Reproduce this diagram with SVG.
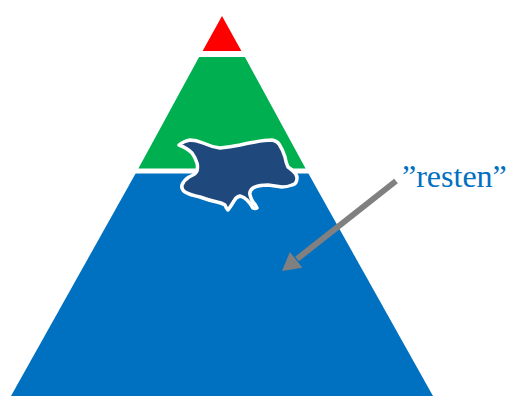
<svg xmlns="http://www.w3.org/2000/svg" width="512" height="396" viewBox="0 0 512 396">
<style>
.lbl{font-family:"Liberation Serif","DejaVu Serif",serif;font-size:32px;fill:#0070C0}
.arr{stroke:#808080;stroke-width:6;fill:none}
</style>
<rect width="512" height="396" fill="#fff"/>
<g id="top">
<polygon points="222,16 241.4,51 202.6,51" fill="#FF0000"/>
</g>
<g id="middle">
<polygon points="199.1,57 244.9,57 305.6,168.5 138.4,168.5" fill="#00B050"/>
</g>
<g id="bottom">
<polygon points="135.6,173.5 308.4,173.5 433,396 11,396" fill="#0070C0"/>
</g>
<g id="blob">
<path d="M179,145 Q184,141 190,140 Q196,140 203,143 Q212,147 220,148 Q230,147 240,145 Q248,143 255,142 Q265,140 272,140 Q277,141 279,144 Q283,150 285,157 Q286,163 288,167 Q291,169 293,171 Q297,174 297,178 Q297,184 292,185 Q287,187 282,187 Q275,186 268,185 Q258,185 253,188 Q249,191 250,195 Q251,199 253,202 Q256,205 257,208 Q255,209 253,208 Q250,203 247,200 Q244,197 240,196 Q236,197 234,201 Q231,206 228,210 Q226,208 225,205 Q222,203 217,202 Q208,200 200,197 Q190,195 185,192 Q181,189 182,185 Q184,180 189,177 Q196,174 197,171 Q198,167 197,163 Q195,157 192,153 Q187,148 179,145 Z" fill="#1F497D" stroke="#fff" stroke-width="3.5" stroke-linejoin="round"/>
</g>
<g id="connectors">
<line class="arr" x1="396" y1="181" x2="297" y2="259"/>
<polygon points="282,271 289.9,251.9 302.3,267.7" fill="#808080"/>
</g>
<g id="label">
<text class="lbl" x="402" y="187">”resten”</text>
</g>
</svg>
